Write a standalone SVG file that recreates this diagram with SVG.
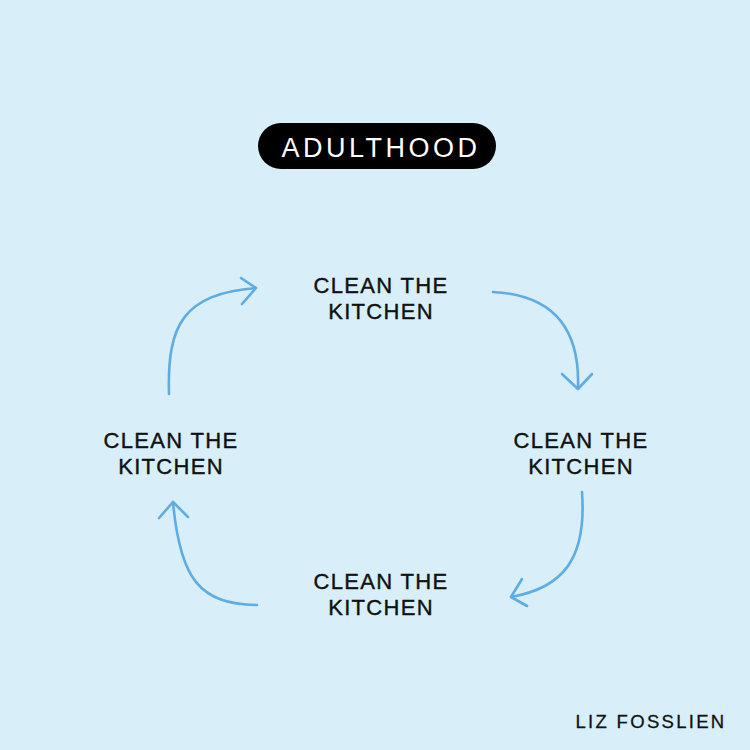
<svg xmlns="http://www.w3.org/2000/svg" width="750" height="750" viewBox="0 0 750 750">
<style>
.lbl{font-family:"Liberation Sans","DejaVu Sans",sans-serif;font-size:22px;letter-spacing:1.3px;fill:#111;stroke:#111;stroke-width:0.4;text-anchor:middle}
.arr{fill:none;stroke:#5DADE2;stroke-width:2.6;stroke-linecap:round;stroke-linejoin:round}
</style>
<rect width="750" height="750" fill="#D8EFFA"/>
<g id="title">
<rect x="258" y="123" width="238" height="46" rx="23" fill="#000"/>
<text x="381" y="157" font-family="Liberation Sans,DejaVu Sans,sans-serif" font-size="27" letter-spacing="3.5" fill="#fff" text-anchor="middle">ADULTHOOD</text>
</g>
<g id="node-top">
<text class="lbl" x="381" y="293">CLEAN THE</text>
<text class="lbl" x="381" y="319">KITCHEN</text>
</g>
<g id="node-right">
<text class="lbl" x="581" y="448">CLEAN THE</text>
<text class="lbl" x="581" y="474">KITCHEN</text>
</g>
<g id="node-bottom">
<text class="lbl" x="381" y="589">CLEAN THE</text>
<text class="lbl" x="381" y="615">KITCHEN</text>
</g>
<g id="node-left">
<text class="lbl" x="171" y="448">CLEAN THE</text>
<text class="lbl" x="171" y="474">KITCHEN</text>
</g>
<g id="connectors">
<path class="arr" d="M169,394 C167,325 183,294 256,288"/>
<path class="arr" d="M241,278 L256,288 L242,304"/>
<path class="arr" d="M493,292 C555,295 580,330 578,388"/>
<path class="arr" d="M562,374 L578,389 L592,374"/>
<path class="arr" d="M582,492 C587,560 562,588 511,597"/>
<path class="arr" d="M522,579 L511,597 L527,606"/>
<path class="arr" d="M257,605 C200,604 180,580 173,502"/>
<path class="arr" d="M159,518 L173,502 L188,517"/>
</g>
<g id="signature">
<text x="651" y="728" font-family="Liberation Sans,DejaVu Sans,sans-serif" font-size="18.5" letter-spacing="2.3" fill="#111" stroke="#111" stroke-width="0.3" text-anchor="middle">LIZ FOSSLIEN</text>
</g>
</svg>
